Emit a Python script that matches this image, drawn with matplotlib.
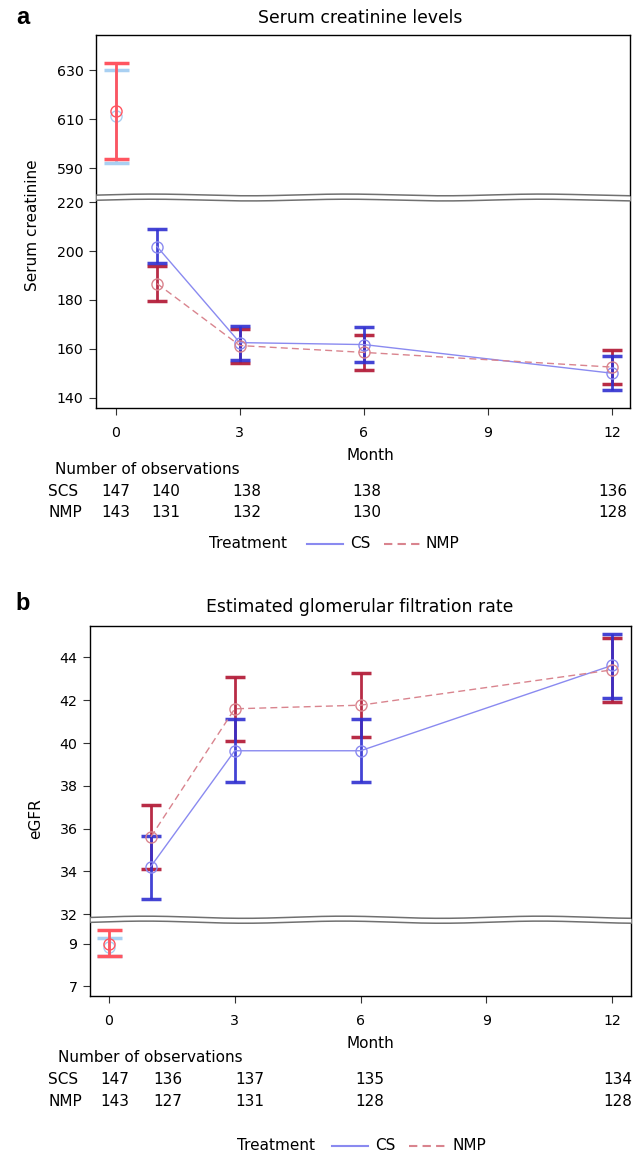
import numpy as np
import matplotlib
matplotlib.use("Agg")
import matplotlib.pyplot as plt
from matplotlib.lines import Line2D

plt.rcParams['font.family'] = ['DejaVu Sans']

W, H = 633, 1153

# visit months (after baseline)
months = [1, 3, 6, 12]

# serum creatinine: mean, lower, upper
scr_cs = [201.8, 162.6, 161.8, 150.1]
scr_cs_lo = [195.0, 155.4, 154.8, 143.3]
scr_cs_hi = [208.8, 169.5, 169.0, 157.2]
scr_nmp = [186.7, 161.4, 158.6, 152.6]
scr_nmp_lo = [179.7, 154.3, 151.6, 145.6]
scr_nmp_hi = [193.9, 168.3, 165.7, 159.6]
scr_base_cs = [611.4, 592.3, 630.0]     # mean, lo, hi
scr_base_nmp = [613.4, 593.8, 633.1]

# eGFR
egfr_cs = [34.23, 39.64, 39.64, 43.63]
egfr_cs_lo = [32.69, 38.20, 38.20, 42.12]
egfr_cs_hi = [35.66, 41.14, 41.14, 45.09]
egfr_nmp = [35.61, 41.60, 41.77, 43.42]
egfr_nmp_lo = [34.11, 40.08, 40.27, 41.90]
egfr_nmp_hi = [37.09, 43.07, 43.27, 44.89]
egfr_base_cs = [8.85, 8.44, 9.26]
egfr_base_nmp = [9.0, 8.44, 9.65]

# number of observations
obs_a_scs = [147, 140, 138, 138, 136]
obs_a_nmp = [143, 131, 132, 130, 128]
obs_b_scs = [147, 136, 137, 135, 134]
obs_b_nmp = [143, 127, 131, 128, 128]
obs_a_x = [116, 166, 247, 367, 613]   # pixel columns
obs_b_x = [115, 168, 250, 370, 618]

CS_LINE = '#8a8af0'
NMP_LINE = '#d9848e'
CS_BAR = '#2f2fd0'
NMP_BAR = '#b4203c'
BASE_CS = '#a9d0f2'
BASE_NMP = '#ff5560'

FS = 11


def fx(x):
    return x / W


def fy(y):
    return 1 - y / H


def ta(v):
    v = np.asarray(v, dtype=float)
    return np.where(v > 400, v - 356.26, v)


def tb(v):
    v = np.asarray(v, dtype=float)
    return np.where(v < 20, v + 21.63, v)


def draw_break(ax, y1, y2, amp, xlim):
    xs = np.linspace(xlim[0], xlim[1], 300)
    wave = amp * np.sin(2 * np.pi * (xs + 0.3) / 4.7)
    ax.fill_between(xs, y1 + wave, y2 + wave, color='white', zorder=4, lw=0)
    ax.plot(xs, y1 + wave, color='#707070', lw=1.1, zorder=5)
    ax.plot(xs, y2 + wave, color='#707070', lw=1.1, zorder=5)


def draw_panel(ax, tf, cs, cs_lo, cs_hi, nmp, nmp_lo, nmp_hi, bcs, bnmp, cap_base):
    # baseline
    for b, c in [(bcs, BASE_CS), (bnmp, BASE_NMP)]:
        ax.errorbar([0], tf([b[0]]), yerr=[tf([b[0]]) - tf([b[1]]), tf([b[2]]) - tf([b[0]])],
                    fmt='none', ecolor=c, elinewidth=2, capsize=cap_base, capthick=2.5, zorder=3)
        ax.plot([0], tf([b[0]]), 'o', mfc='none', mec=c, ms=8, mew=1, zorder=3)
    # follow-up
    ax.errorbar(months, tf(nmp), yerr=[tf(nmp) - tf(nmp_lo), tf(nmp_hi) - tf(nmp)],
                fmt='none', ecolor=NMP_BAR, elinewidth=2, capsize=7, capthick=2.5, alpha=0.95, zorder=3)
    ax.errorbar(months, tf(cs), yerr=[tf(cs) - tf(cs_lo), tf(cs_hi) - tf(cs)],
                fmt='none', ecolor=CS_BAR, elinewidth=2, capsize=7, capthick=2.5, alpha=0.9, zorder=3)
    ax.plot(months, tf(cs), '-o', color=CS_LINE, lw=1, mfc='none', mec=CS_LINE, ms=8, mew=1, zorder=4)
    ax.plot(months, tf(nmp), '--o', color=NMP_LINE, lw=1, dashes=(5, 3), mfc='none', mec=NMP_LINE,
            ms=8, mew=1, zorder=4)
    ax.set_xticks([0, 3, 6, 9, 12])
    ax.tick_params(axis='both', labelsize=10.2, length=5, width=0.8, color='#333333', pad=4)
    ax.tick_params(axis='x', pad=8)
    for s in ax.spines.values():
        s.set_linewidth(1)


def draw_table(rows, xs, scs, nmp, hdr_x):
    fig.text(fx(hdr_x), fy(rows[0]), 'Number of observations', fontsize=FS, va='center', ha='left')
    fig.text(fx(48), fy(rows[1]), 'SCS', fontsize=FS, va='center', ha='left')
    fig.text(fx(48), fy(rows[2]), 'NMP', fontsize=FS, va='center', ha='left')
    for x, a, b in zip(xs, scs, nmp):
        fig.text(fx(x), fy(rows[1]), str(a), fontsize=FS, va='center', ha='center')
        fig.text(fx(x), fy(rows[2]), str(b), fontsize=FS, va='center', ha='center')


def draw_legend(y, x_treat, x_l1, x_cs, x_l2, x_nmp):
    fig.text(fx(x_treat), fy(y), 'Treatment', fontsize=FS, va='center', ha='left')
    fig.add_artist(Line2D([fx(x_l1), fx(x_l1 + 36)], [fy(y), fy(y)], color=CS_LINE, lw=1.5,
                          transform=fig.transFigure))
    fig.text(fx(x_cs), fy(y), 'CS', fontsize=FS, va='center', ha='left')
    fig.add_artist(Line2D([fx(x_l2), fx(x_l2 + 37)], [fy(y), fy(y)], color=NMP_LINE, lw=1.5,
                          dashes=(4, 2.5), transform=fig.transFigure))
    fig.text(fx(x_nmp), fy(y), 'NMP', fontsize=FS, va='center', ha='left')


fig = plt.figure(figsize=(W / 100, H / 100), dpi=100)

# ---- panel a ----
axa = fig.add_axes([fx(96), fy(408), fx(630) - fx(96), fy(35) - fy(408)])
draw_panel(axa, ta, scr_cs, scr_cs_lo, scr_cs_hi, scr_nmp, scr_nmp_lo, scr_nmp_hi,
           scr_base_cs, scr_base_nmp, cap_base=9)
xa = (-0.475, 12.43)
axa.set_xlim(xa)
axa.set_ylim(135.9, 288.2)
yt_a = [140, 160, 180, 200, 220, 590, 610, 630]
axa.set_yticks(ta(yt_a))
axa.set_yticklabels([str(v) for v in yt_a])
draw_break(axa, 220.8, 222.9, 0.35, xa)
axa.set_ylabel('Serum creatinine', fontsize=FS)
axa.yaxis.set_label_coords(-0.105, 0.49)
fig.text(fx(360), fy(18), 'Serum creatinine levels', fontsize=12.4, ha='center', va='center')
fig.text(fx(16), fy(17), 'a', fontsize=17, fontweight='bold', ha='left', va='center',
         family='Liberation Sans')
fig.text(fx(370), fy(456), 'Month', fontsize=FS, ha='center', va='center')
draw_table([470, 491, 513], obs_a_x, obs_a_scs, obs_a_nmp, 55)
draw_legend(544, 209, 307, 350, 384, 426)

# ---- panel b ----
axb = fig.add_axes([fx(90), fy(996), fx(631) - fx(90), fy(626) - fy(996)])
draw_panel(axb, tb, egfr_cs, egfr_cs_lo, egfr_cs_hi, egfr_nmp, egfr_nmp_lo, egfr_nmp_hi,
           egfr_base_cs, egfr_base_nmp, cap_base=9)
xb = (-0.45, 12.45)
axb.set_xlim(xb)
axb.set_ylim(28.18, 45.47)
yt_b = [7, 9, 32, 34, 36, 38, 40, 42, 44]
axb.set_yticks(tb(yt_b))
axb.set_yticklabels([str(v) for v in yt_b])
draw_break(axb, 31.63, 31.86, 0.05, xb)
axb.set_ylabel('eGFR', fontsize=FS)
axb.yaxis.set_label_coords(-0.087, 0.48)
fig.text(fx(360), fy(607), 'Estimated glomerular filtration rate', fontsize=12.4, ha='center', va='center')
fig.text(fx(15), fy(603), 'b', fontsize=17, fontweight='bold', ha='left', va='center',
         family='Liberation Sans')
fig.text(fx(370), fy(1043), 'Month', fontsize=FS, ha='center', va='center')
draw_table([1058, 1079, 1101], obs_b_x, obs_b_scs, obs_b_nmp, 58)
draw_legend(1146, 237, 332, 375, 409, 452)

fig.savefig('out.png', dpi=100)
